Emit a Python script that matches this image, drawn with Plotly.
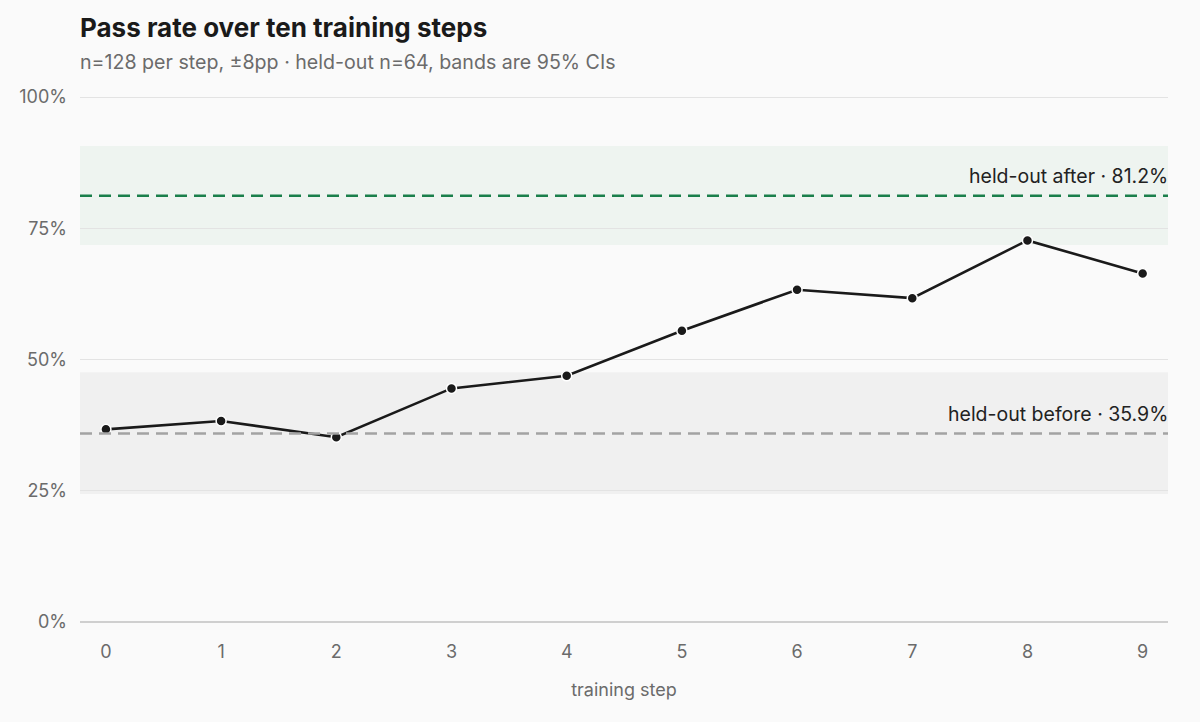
import plotly.graph_objects as go

# pass rate per training step (%)
steps = [0, 1, 2, 3, 4, 5, 6, 7, 8, 9]
pass_rate = [36.7, 38.3, 35.2, 44.5, 46.9, 55.5, 63.3, 61.7, 72.7, 66.4]

# held-out reference lines and their 95% CI bands (%)
before_val = 35.9
before_ci = [24.4, 47.6]
after_val = 81.2
after_ci = [71.8, 90.7]

y_ticks = [0, 25, 50, 75, 100]
y_ticktext = ["0%", "25%", "50%", "75%", "100%"]

title = "Pass rate over ten training steps"
subtitle = "n=128 per step, ±8pp · held-out n=64, bands are 95% CIs"

FONT = "Inter, Roboto, 'Noto Sans', sans-serif"

fig = go.Figure()

# CI bands
fig.add_hrect(y0=after_ci[0], y1=after_ci[1], fillcolor="#e6f0ea", opacity=0.6,
              line_width=0, layer="below")
fig.add_hrect(y0=before_ci[0], y1=before_ci[1], fillcolor="#e9e9e9", opacity=0.6,
              line_width=0, layer="below")

# reference lines
fig.add_hline(y=after_val, line=dict(color="#1a7f4b", width=2.6, dash="12px,7px"))
fig.add_hline(y=before_val, line=dict(color="#a3a3a3", width=2.6, dash="12px,7px"))

fig.add_trace(go.Scatter(
    x=steps,
    y=pass_rate,
    mode="lines+markers",
    line=dict(color="#1a1a1a", width=2.6),
    marker=dict(color="#1a1a1a", size=10, line=dict(color="#ffffff", width=1.5)),
    showlegend=False,
    hoverinfo="skip",
))

fig.add_annotation(x=1, xref="paper", y=after_val, yref="y", yshift=6,
                   text=f"held-out after · {after_val}%", showarrow=False,
                   xanchor="right", yanchor="bottom", xshift=2,
                   font=dict(size=19.5, color="#222222", family=FONT))
fig.add_annotation(x=1, xref="paper", y=before_val, yref="y", yshift=6,
                   text=f"held-out before · {before_val}%", showarrow=False,
                   xanchor="right", yanchor="bottom", xshift=2,
                   font=dict(size=19.5, color="#222222", family=FONT))

# title and subtitle
fig.add_annotation(x=0, xref="paper", y=1.128, yref="paper", text=f"<b>{title}</b>",
                   showarrow=False, xanchor="left", yanchor="middle", xshift=-2,
                   font=dict(size=26, color="#1a1a1a", family=FONT))
fig.add_annotation(x=0, xref="paper", y=1.063, yref="paper", text=subtitle,
                   showarrow=False, xanchor="left", yanchor="middle", xshift=-2,
                   font=dict(size=19.6, color="#6b6b6b", family=FONT))

fig.update_layout(
    width=1200,
    height=722,
    paper_bgcolor="#fafafa",
    plot_bgcolor="#fafafa",
    margin=dict(l=80, r=32, t=95, b=100),
    font=dict(family=FONT, color="#6b6b6b", size=17),
    xaxis=dict(
        range=[-0.225, 9.22],
        tickvals=steps,
        showgrid=False,
        zeroline=False,
        showline=False,
        ticks="",
        ticklabelstandoff=17,
        tickfont=dict(size=18, color="#6b6b6b"),
        title=dict(text="training step", font=dict(size=18, color="#6b6b6b"), standoff=22),
    ),
    yaxis=dict(
        range=[0, 100.4],
        tickvals=y_ticks,
        ticktext=y_ticktext,
        showgrid=True,
        gridcolor="#e3e3e3",
        gridwidth=1,
        zeroline=True,
        zerolinecolor="#cfcfcf",
        zerolinewidth=1.5,
        ticks="",
        ticklabelstandoff=12,
        tickfont=dict(size=18, color="#6b6b6b"),
    ),
)

fig.write_html("out.html", config={"displayModeBar": False},
               post_script="document.body.style.margin='0';")
